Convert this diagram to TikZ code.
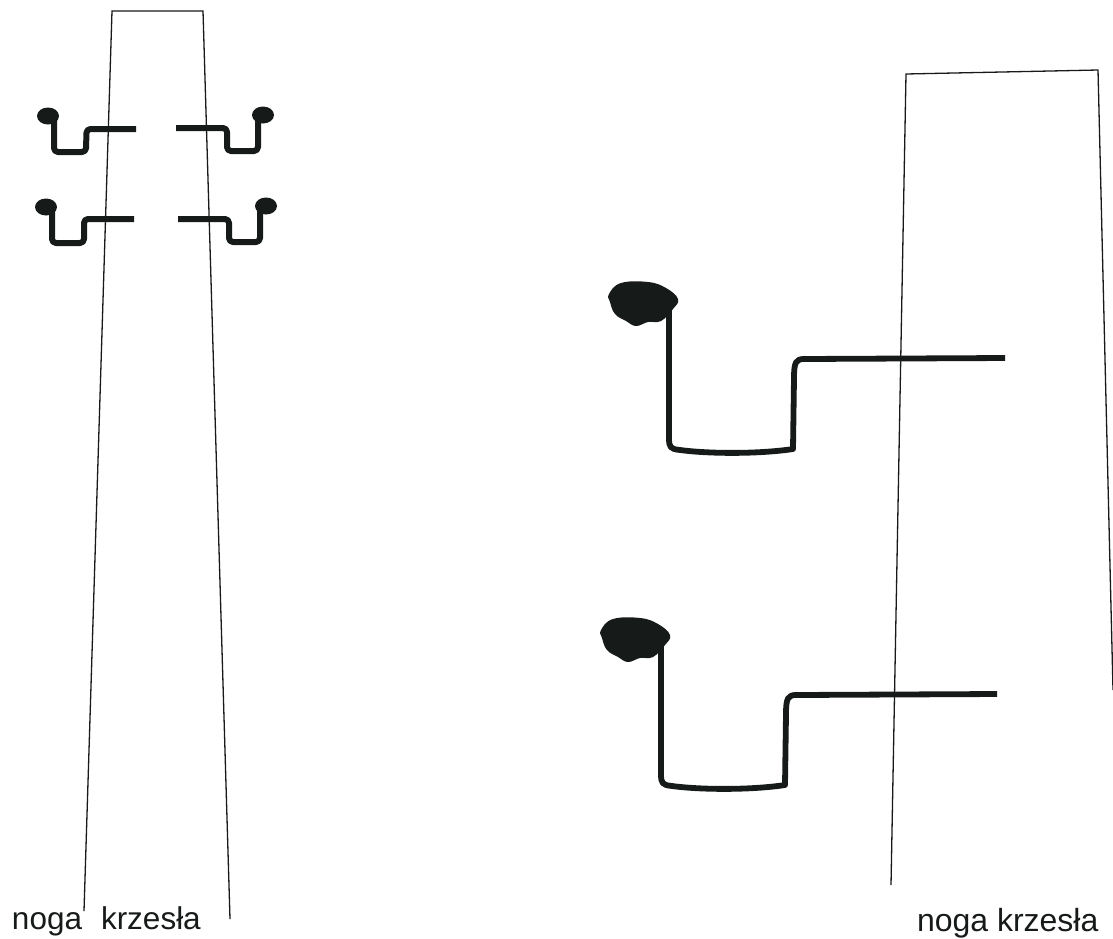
\documentclass[tikz,border=0pt]{standalone}
\usepackage{fontspec}
\setmainfont{Liberation Sans}
\definecolor{ink}{HTML}{161A18}
\tikzset{
  leg/.style={draw=ink,line width=1.3pt,line join=miter},
  hook/.style={draw=ink,line width=6pt,line join=round,rounded corners=4pt},
  bighook/.style={draw=ink,line width=5.8pt,line join=round},
  blob/.style={fill=ink,draw=none},
  label/.style={text=ink,anchor=base west,inner sep=0pt,outer sep=0pt}
}
\newcommand{\bigblob}[2]{%
  \begin{scope}[shift={(#1,#2)}]
    \fill[blob] plot[smooth cycle,tension=0.7] coordinates {(-34,-9) (-22,-20) (5,-21) (23,-15) (35,-4) (30,6) (18,18) (5,19) (-7,23) (-17,18) (-28,11) (-33,-1)};
  \end{scope}}
\newcommand{\bigwire}[2]{%
  \begin{scope}[shift={(#1,#2)}]
    \draw[bighook] (669,305) -- (669,438) .. controls (669,447) and (670,449) .. (680,450) .. controls (710,454) and (760,454) .. (793,449) -- (794,378) .. controls (794,362) and (796,359) .. (804,359) -- (1005,358);
  \end{scope}}
\begin{document}
\begin{tikzpicture}[x=1pt,y=-1pt]
\useasboundingbox (0,0) rectangle (1113,938);
% chair legs
\draw[leg] (84,911) -- (112,11) -- (203,11) -- (230,919);
\draw[leg] (891,885) -- (906,74) -- (1098,70) -- (1113,690);
% small hooks, left view
\draw[hook] (54,116) -- (54,152) -- (86,152) -- (86.5,129) -- (136,129);
\fill[blob] (48,116) ellipse [x radius=11,y radius=8.5];
\draw[hook] (176,128) -- (227,128) -- (227,151) -- (258,151) -- (258,115);
\fill[blob] (263,115) ellipse [x radius=11,y radius=8.5];
\draw[hook] (52,207) -- (52,243) -- (84,243) -- (84,219) -- (134,219);
\fill[blob] (46,207) ellipse [x radius=11,y radius=8.5];
\draw[hook] (178,219) -- (229,219) -- (229,242) -- (260,242) -- (260,206);
\fill[blob] (266,206) ellipse [x radius=11,y radius=8.5];
% large hooks, right view
\bigwire{0}{0}
\bigblob{643}{303}
\bigwire{-8}{336}
\bigblob{635}{639}
% labels
\node[label,font=\fontsize{31.5}{31.5}\selectfont] (lblLeftA) at (12,929) {noga};
\node[label,font=\fontsize{31.5}{31.5}\selectfont] (lblLeftB) at (101,929) {krzesła};
\node[label,font=\fontsize{32}{32}\selectfont] (lblRight) at (917,931) {noga krzesła};
\end{tikzpicture}
\end{document}
